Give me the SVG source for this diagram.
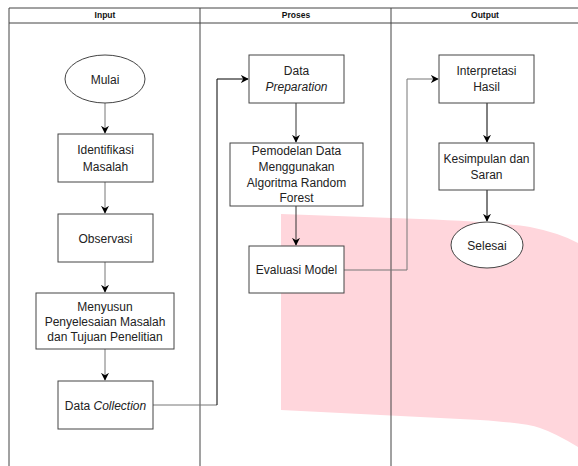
<svg xmlns="http://www.w3.org/2000/svg" width="578" height="466" viewBox="0 0 578 466">
<style>
.lane{fill:none;stroke:#444;stroke-width:1}
.hdr{font-family:"Liberation Sans",Arial,sans-serif;font-size:8.5px;font-weight:bold;fill:#111;text-anchor:middle}
.box{fill:#fff;stroke:#444;stroke-width:1}
.t{font-family:"Liberation Sans",Arial,sans-serif;font-size:12px;fill:#222;text-anchor:middle}
.c1{fill:none;stroke:#777;stroke-width:1}
.c2{fill:none;stroke:#333;stroke-width:1}
.c3{fill:none;stroke:#000;stroke-width:1}
</style>
<defs>
<marker id="ah" viewBox="0 0 10 10" refX="9" refY="5" markerWidth="8" markerHeight="8" markerUnits="userSpaceOnUse" orient="auto">
<path d="M0,0 L10,5 L0,10 L3,5 Z" fill="#000"/>
</marker>
</defs>
<rect width="578" height="466" fill="#fff"/>
<path d="M281,214 L420,219 Q500,222 530,227 Q560,233 578,243 L578,447 Q555,433 540,428 Q525,423 480,420 L281,410 Z" fill="#ffd6dc"/>
<g id="lanes">
<path class="lane" d="M578,8 H9 V466 M9,23 H578 M200,8 V466 M391,8 V466"/>
<text class="hdr" x="105" y="18">Input</text>
<text class="hdr" x="296" y="18">Proses</text>
<text class="hdr" x="485" y="18">Output</text>
</g>
<g id="connectors">
<path class="c1" d="M105,103 V133" marker-end="url(#ah)"/>
<path class="c1" d="M105,182 V213" marker-end="url(#ah)"/>
<path class="c1" d="M105,262 V292" marker-end="url(#ah)"/>
<path class="c1" d="M105,349 V380" marker-end="url(#ah)"/>
<path class="c1" d="M153,405 H217"/>
<path class="c3" d="M217,405 V79 H248" marker-end="url(#ah)"/>
<path class="c2" d="M296,103 V142" marker-end="url(#ah)"/>
<path class="c2" d="M296,206 V245" marker-end="url(#ah)"/>
<path class="c1" d="M344,270 H407 V79 H438" marker-end="url(#ah)"/>
<path class="c3" d="M487,103 V142" marker-end="url(#ah)"/>
<path class="c3" d="M487,190 V221" marker-end="url(#ah)"/>
</g>
<g id="mulai">
<ellipse class="box" cx="105" cy="79" rx="40" ry="24"/>
<text class="t" x="105" y="83.5">Mulai</text>
</g>
<g id="identifikasi">
<rect class="box" x="58" y="134" width="95" height="48"/>
<text class="t" x="105.5" y="154">Identifikasi</text>
<text class="t" x="105.5" y="171">Masalah</text>
</g>
<g id="observasi">
<rect class="box" x="58" y="214" width="95" height="48"/>
<text class="t" x="105.5" y="242.5">Observasi</text>
</g>
<g id="menyusun">
<rect class="box" x="36" y="293" width="138" height="56"/>
<text class="t" x="105" y="311">Menyusun</text>
<text class="t" x="105" y="326">Penyelesaian Masalah</text>
<text class="t" x="105" y="341">dan Tujuan Penelitian</text>
</g>
<g id="datacollection">
<rect class="box" x="58" y="381" width="95" height="48"/>
<text class="t" x="105.5" y="409.5">Data <tspan font-style="italic">Collection</tspan></text>
</g>
<g id="datapreparation">
<rect class="box" x="249" y="55" width="95" height="48"/>
<text class="t" x="296.5" y="75">Data</text>
<text class="t" x="296.5" y="91" font-style="italic">Preparation</text>
</g>
<g id="pemodelan">
<rect class="box" x="230" y="143" width="133" height="63"/>
<text class="t" x="296.5" y="155">Pemodelan Data</text>
<text class="t" x="296.5" y="171">Menggunakan</text>
<text class="t" x="296.5" y="187">Algoritma Random</text>
<text class="t" x="296.5" y="202">Forest</text>
</g>
<g id="evaluasi">
<rect class="box" x="249" y="246" width="95" height="47"/>
<text class="t" x="296.5" y="274">Evaluasi Model</text>
</g>
<g id="interpretasi">
<rect class="box" x="439" y="55" width="95" height="48"/>
<text class="t" x="486.5" y="75">Interpretasi</text>
<text class="t" x="486.5" y="91">Hasil</text>
</g>
<g id="kesimpulan">
<rect class="box" x="439" y="143" width="95" height="47"/>
<text class="t" x="486.5" y="163">Kesimpulan dan</text>
<text class="t" x="486.5" y="179">Saran</text>
</g>
<g id="selesai">
<ellipse class="box" cx="487" cy="245" rx="36" ry="23"/>
<text class="t" x="487" y="249.5">Selesai</text>
</g>
</svg>
